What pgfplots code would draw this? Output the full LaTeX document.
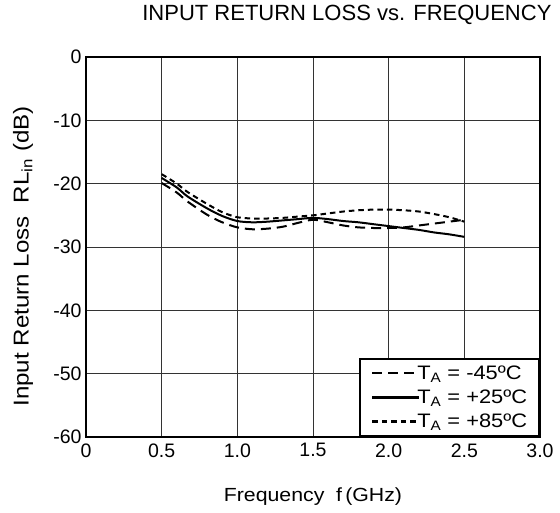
\documentclass[border=0pt]{standalone}
\usepackage{fontspec}
\setmainfont{Liberation Sans}
\newfontfamily\wide{Liberation Sans}[FakeStretch=1.12]
\usepackage{pgfplots}
\pgfplotsset{compat=1.18}
\newcommand{\TA}{T\textsubscript{A}}
\begin{document}
\begin{tikzpicture}
\useasboundingbox (-86pt,-75pt) rectangle (474pt,437pt);
\begin{axis}[
  at={(0,0)}, anchor=south west,
  scale only axis, width=454pt, height=380pt,
  xmin=0, xmax=3, ymin=-60, ymax=0,
  xtick={0,0.5,1,1.5,2,2.5,3},
  xticklabels={0,0.5,1.0,1.5,2.0,2.5,3.0},
  ytick={-60,-50,-40,-30,-20,-10,0},
  yticklabels={-60,-50,-40,-30,-20,-10,0},
  grid=major,
  major grid style={black!80, line width=0.8pt},
  axis line style={line width=1.8pt},
  major tick length=0pt,
  tick label style={font=\fontsize{19.5}{22}\selectfont},
  xticklabel style={yshift=-3pt},
  yticklabel style={xshift=-1pt},
  xlabel={Frequency\ \ f\,(GHz)},
  xlabel style={font=\wide\fontsize{19}{22}\selectfont, at={(axis description cs:0.5,0)}, anchor=base, yshift=-64pt},
  ylabel={Input Return Loss\ \ RL\textsubscript{in} (dB)},
  ylabel style={font=\wide\fontsize{21.5}{24}\selectfont, at={(axis description cs:-0.1388,0.475)}, anchor=center, rotate=0},
  title={INPUT RETURN LOSS vs. FREQUENCY},
  title style={font=\fontsize{22}{26}\selectfont, at={(axis description cs:1,1)}, anchor=base east, xshift=15pt, yshift=30pt},
  legend cell align=left,
  legend image code/.code={\draw[#1,overlay,line width=2.3pt] (0pt,0pt) -- (47pt,0pt); \path (0pt,0pt) -- (43pt,0pt);},
  legend style={at={(axis description cs:1,0)}, anchor=south east,
    draw=black, line width=1.8pt, fill=white,
    font=\wide\fontsize{19.5}{21}\selectfont,
    inner xsep=11pt, inner ysep=4pt,
    row sep=3pt,
    nodes={inner xsep=1pt, inner ysep=3pt},
  },
]
\addplot[black, line width=2pt, smooth, dash pattern=on 10pt off 6pt] coordinates {
(0.5,-19.9) (0.6,-21.4) (0.67,-22.8) (0.8,-24.9) (0.9,-26.1) (1.0,-26.9) (1.1,-27.2) (1.2,-27.1) (1.3,-26.8) (1.4,-26.2) (1.5,-25.7) (1.6,-26.1) (1.7,-26.6) (1.8,-26.9) (1.9,-27.0) (2.0,-27.0) (2.1,-26.9) (2.2,-26.6) (2.3,-26.3) (2.4,-26.0) (2.5,-25.7)
};
\addlegendentry{\TA\ = -45ºC}
\addplot[black, line width=2pt, smooth] coordinates {
(0.5,-19.1) (0.6,-20.6) (0.67,-22.0) (0.8,-23.9) (0.9,-25.1) (1.0,-25.9) (1.1,-26.1) (1.2,-26.0) (1.3,-25.8) (1.4,-25.6) (1.5,-25.4) (1.6,-25.6) (1.7,-25.9) (1.8,-26.1) (1.9,-26.4) (2.0,-26.7) (2.1,-27.0) (2.2,-27.3) (2.3,-27.7) (2.4,-28.0) (2.5,-28.4)
};
\addlegendentry{\TA\ = +25ºC}
\addplot[black, line width=2pt, smooth, dash pattern=on 5.5pt off 4pt] coordinates {
(0.5,-18.5) (0.6,-20.0) (0.67,-21.3) (0.8,-23.2) (0.9,-24.5) (1.0,-25.3) (1.1,-25.5) (1.2,-25.5) (1.3,-25.4) (1.4,-25.2) (1.5,-25.0) (1.6,-24.7) (1.7,-24.4) (1.8,-24.2) (1.9,-24.1) (2.0,-24.1) (2.1,-24.2) (2.2,-24.4) (2.3,-24.8) (2.4,-25.3) (2.5,-26.0)
};
\addlegendentry{\TA\ = +85ºC}
\end{axis}
\end{tikzpicture}
\end{document}
